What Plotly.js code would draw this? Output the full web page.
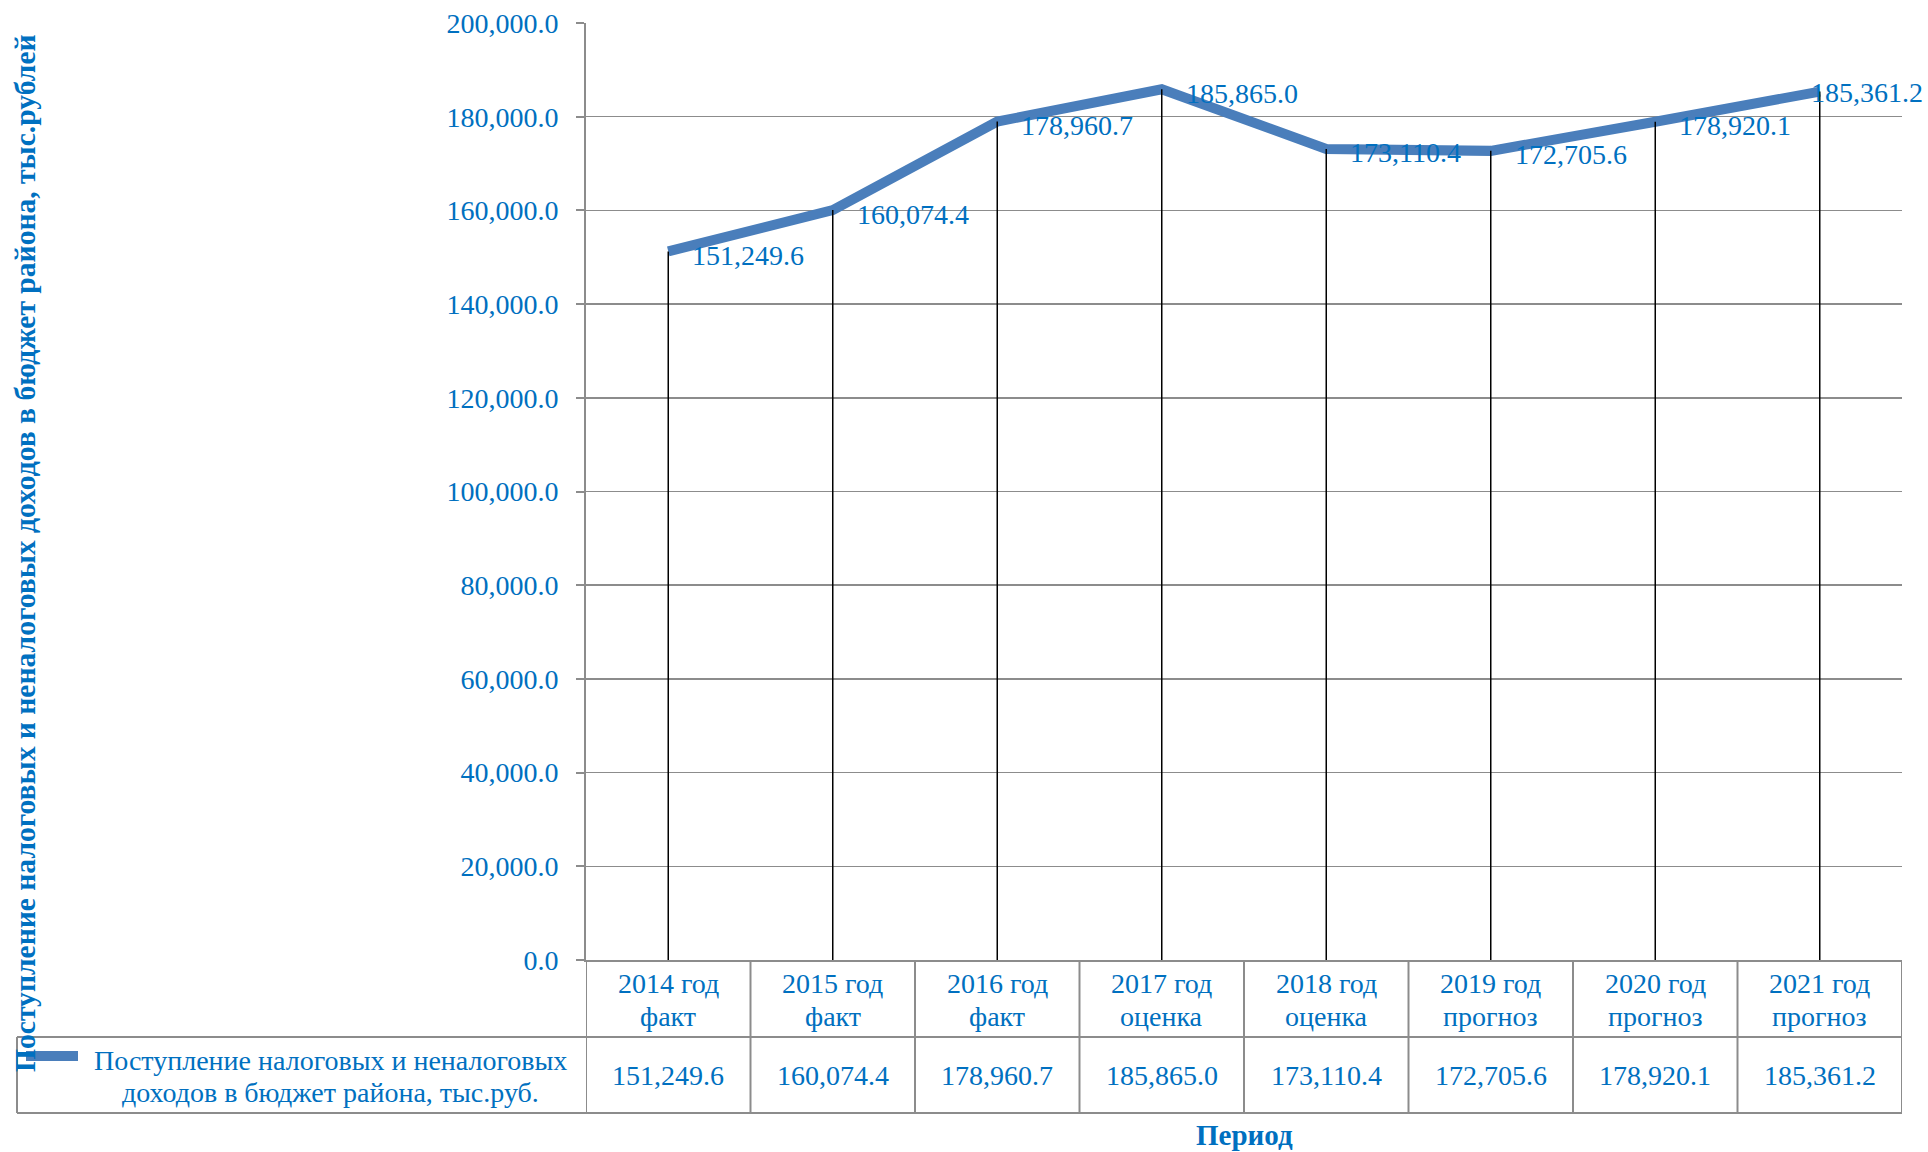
<!DOCTYPE html>
<html>
<head>
<meta charset="utf-8">
<script src="https://cdn.plot.ly/plotly-3.0.1.min.js"></script>
<style>
html,body{margin:0;padding:0;background:#fff;}
#chart{width:1928px;height:1152px;}
</style>
</head>
<body>
<div id="chart"></div>
<script>
// ---- data ----
var years = ['2014 год','2015 год','2016 год','2017 год','2018 год','2019 год','2020 год','2021 год'];
var stages = ['факт','факт','факт','оценка','оценка','прогноз','прогноз','прогноз'];
var values = [151249.6, 160074.4, 178960.7, 185865.0, 173110.4, 172705.6, 178920.1, 185361.2];
var seriesNameLines = ['Поступление налоговых и неналоговых', 'доходов в бюджет района, тыс.руб.'];
var yTitle = 'Поступление налоговых и неналоговых доходов в бюджет района, тыс.рублей';
var xTitle = 'Период';

// ---- layout helpers ----
var W = 1928, H = 1152;
var L = 586, R = 1902, T = 23, B = 960;
var pw = R - L, ph = B - T;
function px(x){ return (x - L) / pw; }
function py(y){ return (B - y) / ph; }

var FONT = '"Liberation Serif", "Times New Roman", serif';
var BLUE = '#0070C0';
var LINE = '#4A7EBB';
var GRID = '#8c8c8c';

var cats = years.map(function(y, i){ return y + ' ' + stages[i]; });
function fmt(v){ return v.toLocaleString('en-US', {minimumFractionDigits:1, maximumFractionDigits:1}); }

var mainTrace = {
  type: 'scatter', mode: 'lines', x: cats, y: values,
  line: {color: LINE, width: 10}, hoverinfo: 'skip', showlegend: false
};
var dropX = [], dropY = [];
cats.forEach(function(c, i){ dropX.push(c, c, null); dropY.push(0, values[i], null); });
var dropTrace = {
  type: 'scatter', mode: 'lines', x: dropX, y: dropY, connectgaps: false,
  line: {color: '#000000', width: 1.5}, hoverinfo: 'skip', showlegend: false
};

var annotations = [];
var shapes = [];
// data labels
cats.forEach(function(c, i){
  var last = (i === cats.length - 1);
  annotations.push({xref:'x', yref:'y', x:c, y:values[i], text: fmt(values[i]),
    showarrow:false, xanchor:'left', yanchor:'middle', xshift: last ? -11 : 22, yshift: last ? -1 : -4,
    font:{family:FONT, size:28, color:BLUE}});
  // category labels in table
  annotations.push({xref:'x', yref:'paper', x:c, y:py(984), text: years[i],
    showarrow:false, xanchor:'center', yanchor:'middle', font:{family:FONT, size:28, color:BLUE}});
  annotations.push({xref:'x', yref:'paper', x:c, y:py(1016), text: stages[i],
    showarrow:false, xanchor:'center', yanchor:'middle', font:{family:FONT, size:28, color:BLUE}});
  annotations.push({xref:'x', yref:'paper', x:c, y:py(1075), text: fmt(values[i]),
    showarrow:false, xanchor:'center', yanchor:'middle', font:{family:FONT, size:28, color:BLUE}});
});
// legend text
annotations.push({xref:'paper', yref:'paper', x:px(330), y:py(1060), text: seriesNameLines[0],
  showarrow:false, xanchor:'center', yanchor:'middle', font:{family:FONT, size:28, color:BLUE}});
annotations.push({xref:'paper', yref:'paper', x:px(330), y:py(1092), text: seriesNameLines[1],
  showarrow:false, xanchor:'center', yanchor:'middle', font:{family:FONT, size:28, color:BLUE}});
// axis titles
annotations.push({xref:'paper', yref:'paper', x:px(1244), y:py(1135), text:'<b>' + xTitle + '</b>',
  showarrow:false, xanchor:'center', yanchor:'middle', font:{family:FONT, size:29, color:BLUE}});
annotations.push({xref:'paper', yref:'paper', x:px(25), y:py(553), text:'<b>' + yTitle + '</b>',
  textangle:-90, showarrow:false, xanchor:'center', yanchor:'middle', font:{family:FONT, size:29.6, color:BLUE}});

// table grid
var gl = {color: GRID, width: 2};
shapes.push({type:'line', xref:'paper', yref:'paper', x0:px(17), x1:px(R), y0:py(1037), y1:py(1037), line:gl});
shapes.push({type:'line', xref:'paper', yref:'paper', x0:px(17), x1:px(R), y0:py(1113), y1:py(1113), line:gl});
shapes.push({type:'line', xref:'paper', yref:'paper', x0:px(17), x1:px(17), y0:py(1037), y1:py(1113), line:gl});
for (var i = 0; i <= cats.length; i++) {
  shapes.push({type:'line', xref:'x', yref:'paper', x0:i - 0.5, x1:i - 0.5, y0:py(B), y1:py(1113), line:gl});
}
// legend key
shapes.push({type:'line', xref:'paper', yref:'paper', x0:px(26), x1:px(78), y0:py(1056), y1:py(1056),
  line:{color: LINE, width: 10}});

var layout = {
  width: W, height: H,
  margin: {l: L, r: W - R, t: T, b: H - B, pad: 0},
  paper_bgcolor: '#ffffff', plot_bgcolor: '#ffffff',
  showlegend: false,
  xaxis: {type:'category', range:[-0.5, cats.length - 0.5], showticklabels:false, ticks:'',
    showgrid:false, zeroline:false, showline:true, linecolor:GRID, linewidth:2, fixedrange:true},
  yaxis: {range:[0, 200000], dtick:20000, tick0:0, tickformat:',.1f', showgrid:true, gridcolor:GRID, gridwidth:1.5,
    zeroline:false, showline:true, linecolor:GRID, linewidth:2, ticks:'outside', ticklen:8, tickcolor:GRID, tickwidth:2,
    ticklabelstandoff:12, tickfont:{family:FONT, size:28, color:BLUE}, fixedrange:true},
  annotations: annotations,
  shapes: shapes
};

Plotly.newPlot('chart', [mainTrace, dropTrace], layout, {displayModeBar:false, staticPlot:true});
</script>
</body>
</html>
